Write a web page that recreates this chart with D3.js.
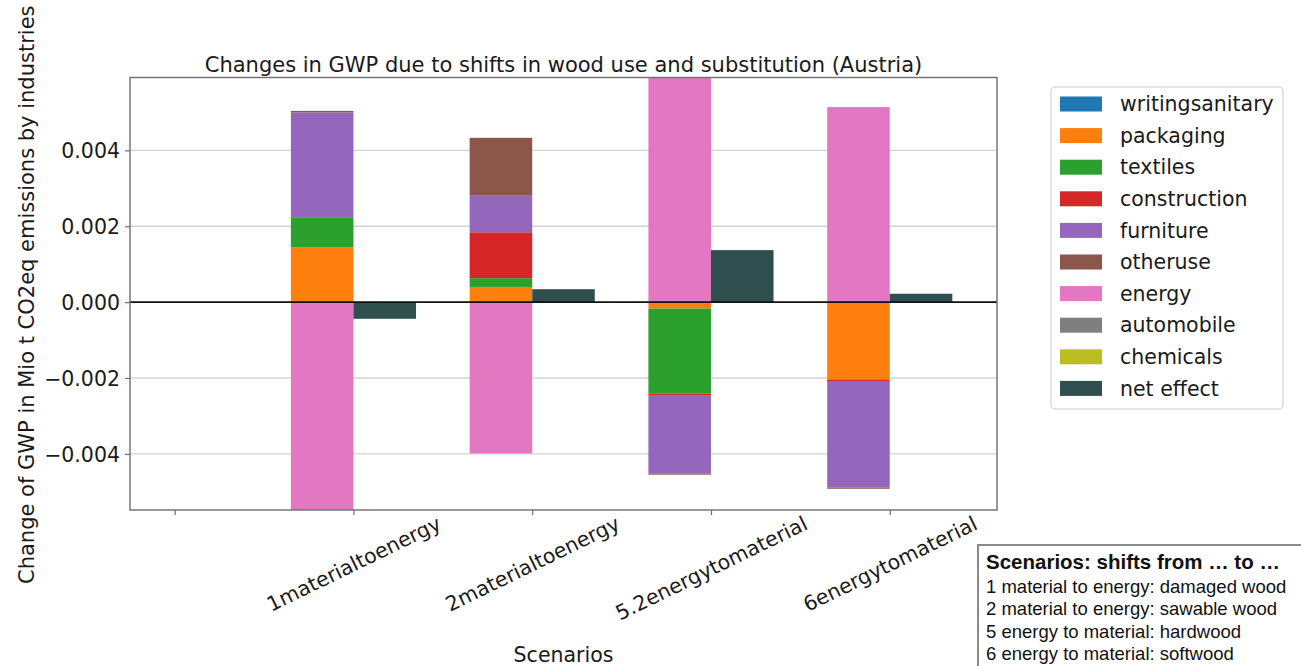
<!DOCTYPE html>
<html>
<head>
<meta charset="utf-8">
<script src="https://cdn.jsdelivr.net/npm/d3@7"></script>
<style>
  html, body { margin: 0; padding: 0; background: #ffffff; }
  svg { display: block; }
</style>
</head>
<body>
<svg id="chart" width="1301" height="666"></svg>
<script>
// Scenario categories and per-industry GWP changes (Mio t CO2eq)
const categories = ["1materialtoenergy", "2materialtoenergy", "5.2energytomaterial", "6energytomaterial"];
const tickLabels = ["", "1materialtoenergy", "2materialtoenergy", "5.2energytomaterial", "6energytomaterial"];

const writingsanitary = [0, 0, 0, 0];
const packaging       = [0.00145, 0.00040, -0.00017, -0.00204];
const textiles        = [0.00077, 0.00023, -0.00224, 0];
const construction    = [0, 0.00121, -0.00004, -0.00004];
const furniture       = [0.00278, 0.00098, -0.00207, -0.00281];
const otheruse        = [0.00004, 0.00151, -0.00003, -0.00003];
const energy          = [-0.00548, -0.00399, 0.00592, 0.00514];
const automobile      = [0, 0, 0, 0];
const chemicals       = [0, 0, 0, 0];
const netEffect       = [-0.00044, 0.00034, 0.00137, 0.00022];

const industries = ["writingsanitary", "packaging", "textiles", "construction", "furniture",
                    "otheruse", "energy", "automobile", "chemicals"];
const industryValues = [writingsanitary, packaging, textiles, construction, furniture,
                        otheruse, energy, automobile, chemicals];
const industryColors = ["#1f77b4", "#ff7f0e", "#2ca02c", "#d62728", "#9467bd",
                        "#8c564b", "#e377c2", "#7f7f7f", "#bcbd22"];
const netColor = "#2f4f4f";

const scenarioNotes = [
  "1 material to energy: damaged wood",
  "2 material to energy: sawable wood",
  "5 energy to material: hardwood",
  "6 energy to material: softwood"
];

// Table rows for d3.stack
const rows = categories.map((c, i) => {
  const r = { scenario: c, pos: i + 1 };
  industries.forEach((k, j) => { r[k] = industryValues[j][i]; });
  return r;
});

const series = d3.stack()
  .keys(industries)
  .offset(d3.stackOffsetDiverging)(rows);

const svg = d3.select("#chart");
const plot = { left: 130, right: 997, top: 77.5, bottom: 510 };
const font = "DejaVu Sans, Verdana, sans-serif";
const barW = 0.35;

const yMin = d3.min(series, s => d3.min(s, d => d[0]));
const yMax = d3.max(series, s => d3.max(s, d => d[1]));

const x = d3.scaleLinear().domain([-0.25, 4.6]).range([plot.left, plot.right]);
const y = d3.scaleLinear().domain([Math.min(yMin, d3.min(netEffect)), Math.max(yMax, d3.max(netEffect))])
  .range([plot.bottom, plot.top]);

// Grid lines
const yTicks = [-0.004, -0.002, 0, 0.002, 0.004];
svg.append("g").selectAll("line").data(yTicks).join("line")
  .attr("x1", plot.left).attr("x2", plot.right)
  .attr("y1", d => y(d)).attr("y2", d => y(d))
  .attr("stroke", "#d4d4d4").attr("stroke-width", 1.4);

svg.append("clipPath").attr("id", "plotclip")
  .append("rect").attr("x", plot.left).attr("y", plot.top)
  .attr("width", plot.right - plot.left).attr("height", plot.bottom - plot.top);

const bars = svg.append("g").attr("clip-path", "url(#plotclip)");

// Stacked industry bars, left of each tick
series.forEach((s, j) => {
  bars.append("g").attr("fill", industryColors[j])
    .selectAll("rect").data(s).join("rect")
    .attr("x", d => x(d.data.pos - barW))
    .attr("width", d => x(d.data.pos) - x(d.data.pos - barW))
    .attr("y", d => y(Math.max(d[0], d[1])))
    .attr("height", d => Math.abs(y(d[0]) - y(d[1])));
});

// Net effect bars, right of each tick
bars.append("g").attr("fill", netColor)
  .selectAll("rect").data(netEffect).join("rect")
  .attr("x", (d, i) => x(i + 1))
  .attr("width", (d, i) => x(i + 1 + barW) - x(i + 1))
  .attr("y", d => y(Math.max(0, d)))
  .attr("height", d => Math.abs(y(d) - y(0)));

// Zero line
svg.append("line")
  .attr("x1", plot.left).attr("x2", plot.right)
  .attr("y1", y(0)).attr("y2", y(0))
  .attr("stroke", "#111").attr("stroke-width", 1.6);

// Frame
svg.append("rect")
  .attr("x", plot.left).attr("y", plot.top)
  .attr("width", plot.right - plot.left).attr("height", plot.bottom - plot.top)
  .attr("fill", "none").attr("stroke", "#6e6e6e").attr("stroke-width", 1.4);

// Y axis
const yAxis = svg.append("g")
  .attr("transform", `translate(${plot.left},0)`)
  .call(d3.axisLeft(y).tickValues(yTicks).tickFormat(d3.format(".3f")).tickSize(5).tickPadding(5));
yAxis.select(".domain").remove();
yAxis.selectAll(".tick line").attr("stroke", "#6e6e6e").attr("stroke-width", 1.2);
yAxis.selectAll(".tick text").attr("font-family", font).attr("font-size", 20.5).attr("fill", "#1a1a1a")
  .attr("dy", "0.36em");

// X axis with rotated labels
const xAxis = svg.append("g")
  .attr("transform", `translate(0,${plot.bottom})`)
  .call(d3.axisBottom(x).tickValues([0, 1, 2, 3, 4]).tickFormat(i => tickLabels[i]).tickSize(5));
xAxis.select(".domain").remove();
xAxis.selectAll(".tick line").attr("stroke", "#6e6e6e").attr("stroke-width", 1.2);
const angle = 26;
xAxis.selectAll(".tick text").each(function () {
  const t = d3.select(this);
  t.attr("font-family", font).attr("font-size", 20.5).attr("fill", "#1a1a1a")
   .attr("y", 0).attr("dy", null).attr("text-anchor", "middle").attr("dominant-baseline", "central");
  const L = this.getComputedTextLength();
  const h = 20.5 * 1.0;
  const a = angle * Math.PI / 180;
  const H = L * Math.sin(a) + h * Math.cos(a);
  t.attr("transform", `translate(0,${3 + H / 2}) rotate(${-angle})`);
});

// Title and axis labels
svg.append("text")
  .attr("x", (plot.left + plot.right) / 2).attr("y", 71.5)
  .attr("text-anchor", "middle").attr("font-family", font).attr("font-size", 21).attr("fill", "#1a1a1a")
  .text("Changes in GWP due to shifts in wood use and substitution (Austria)");

svg.append("text")
  .attr("transform", `translate(34,${(plot.top + plot.bottom) / 2 + 1}) rotate(-90)`)
  .attr("text-anchor", "middle").attr("font-family", font).attr("font-size", 21).attr("fill", "#1a1a1a")
  .text("Change of GWP in Mio t CO2eq emissions by industries");

svg.append("text")
  .attr("x", (plot.left + plot.right) / 2).attr("y", 662)
  .attr("text-anchor", "middle").attr("font-family", font).attr("font-size", 20.5).attr("fill", "#1a1a1a")
  .text("Scenarios");

// Legend
const legendItems = industries.map((k, j) => ({ name: k, color: industryColors[j] }))
  .concat([{ name: "net effect", color: netColor }]);
const lg = svg.append("g").attr("transform", "translate(1051,87)");
lg.append("rect").attr("width", 232).attr("height", 322).attr("rx", 4)
  .attr("fill", "#fff").attr("stroke", "#dcdcdc").attr("stroke-width", 1.4);
const li = lg.selectAll("g.item").data(legendItems).join("g")
  .attr("class", "item")
  .attr("transform", (d, i) => `translate(0,${17 + i * 31.6})`);
li.append("rect").attr("x", 9).attr("y", -7.5).attr("width", 42).attr("height", 15)
  .attr("fill", d => d.color);
li.append("text").attr("x", 69).attr("y", 0).attr("dy", "0.35em")
  .attr("font-family", font).attr("font-size", 20.5).attr("fill", "#1a1a1a")
  .text(d => d.name);

// Scenario description box
const sb = svg.append("g").attr("transform", "translate(978,545)");
sb.append("rect").attr("width", 340).attr("height", 140)
  .attr("fill", "#fff").attr("stroke", "#8a8a8a").attr("stroke-width", 2);
sb.append("text").attr("x", 8).attr("y", 24)
  .attr("font-family", "Liberation Sans, Arial, sans-serif").attr("font-size", 20.5).attr("font-weight", "bold")
  .attr("fill", "#111").text("Scenarios: shifts from … to …");
sb.selectAll("text.note").data(scenarioNotes).join("text").attr("class", "note")
  .attr("x", 8).attr("y", (d, i) => 48 + i * 22.3)
  .attr("font-family", "Liberation Sans, Arial, sans-serif").attr("font-size", 18.5)
  .attr("fill", "#111").text(d => d);
</script>
</body>
</html>
